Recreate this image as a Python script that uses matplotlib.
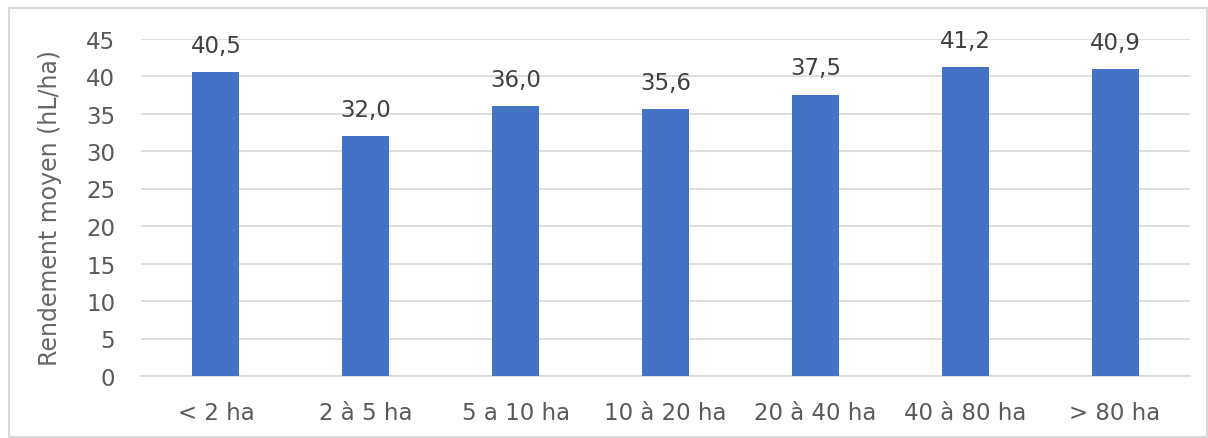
import matplotlib
matplotlib.use("Agg")
import matplotlib.pyplot as plt
from matplotlib.patches import Rectangle

# Average yield by vineyard size class
categories = ["< 2 ha", "2 à 5 ha", "5 a 10 ha", "10 à 20 ha", "20 à 40 ha", "40 à 80 ha", "> 80 ha"]
yields = [40.5, 32.0, 36.0, 35.6, 37.5, 41.2, 40.9]
y_ticks = [0, 5, 10, 15, 20, 25, 30, 35, 40, 45]

plt.rcParams["font.family"] = ["DejaVu Sans"]

fig = plt.figure(figsize=(12.08, 4.39), dpi=100)
ax = fig.add_axes([141 / 1208, 62 / 439, 1049 / 1208, 337.5 / 439])

x = range(len(categories))
bars = ax.bar(x, yields, width=0.313, color="#4472C4", zorder=3)

for xi, v in zip(x, yields):
    ax.annotate(f"{v:.1f}".replace(".", ","), (xi, v), xytext=(0, 11),
                textcoords="offset points", ha="center", va="bottom",
                fontsize=16.5, color="#404040")

ax.set_xlim(-0.5, len(categories) - 0.5)
ax.set_ylim(0, 45)
ax.set_yticks(y_ticks)
ax.set_xticks(list(x))
ax.set_xticklabels(categories)
ax.tick_params(axis="both", length=0, labelsize=16.5, labelcolor="#595959")
ax.tick_params(axis="x", pad=18)
ax.tick_params(axis="y", pad=18.5)
ax.grid(axis="y", color="#d9d9d9", linewidth=1.2, zorder=0)
for side in ["top", "right", "left"]:
    ax.spines[side].set_visible(False)
ax.spines["bottom"].set_color("#d9d9d9")
ax.spines["bottom"].set_linewidth(1.2)

ax.set_ylabel("Rendement moyen (hL/ha)", fontsize=17, color="#666666", labelpad=17)

# light frame around the whole chart
fig.patches.append(Rectangle((9 / 1208, 1 / 439), 1198 / 1208, 429 / 439,
                             transform=fig.transFigure, fill=False,
                             edgecolor="#d9d9d9", linewidth=1.5))

fig.savefig("out.png", dpi=100)
